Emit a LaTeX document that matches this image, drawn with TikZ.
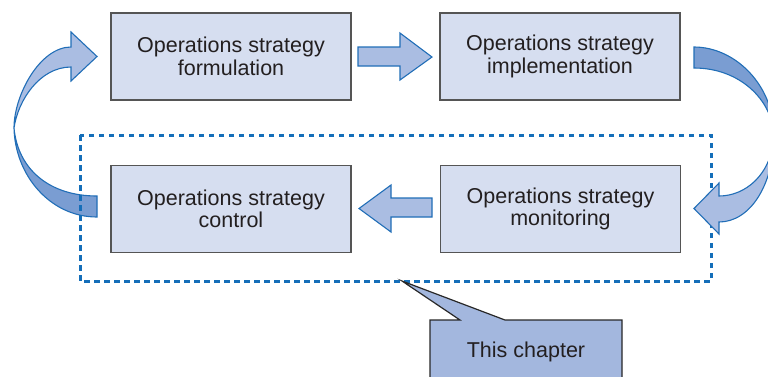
\documentclass[tikz,border=0pt]{standalone}
\usepackage{fontspec}
\setmainfont{Liberation Sans}
\definecolor{boxfill}{RGB}{214,222,240}
\definecolor{boxline}{RGB}{85,85,85}
\definecolor{arrlight}{RGB}{170,189,226}
\definecolor{arrdark}{RGB}{122,157,210}
\definecolor{arrline}{RGB}{33,110,183}
\definecolor{dashcol}{RGB}{20,110,185}
\definecolor{calfill}{RGB}{163,183,222}
\definecolor{calline}{RGB}{40,40,40}
\definecolor{txt}{RGB}{35,31,32}
\begin{document}
\begin{tikzpicture}[x=1pt,y=-1pt,
  stepbox/.style={draw=boxline,line width=1.5pt,fill=boxfill,minimum width=240pt,minimum height=87pt,inner sep=0pt,align=center,text=txt,font=\fontsize{21.5}{22.5}\selectfont},
  lighta/.style={fill=arrlight,draw=arrline,line width=1.1pt,line join=miter},
  darka/.style={fill=arrdark,draw=arrline,line width=1.1pt},
  frame/.style={draw=dashcol,line width=3pt,dash pattern=on 5.5pt off 4.5pt},
  callout/.style={fill=calfill,draw=calline,line width=1.2pt}]
\useasboundingbox (0,0) rectangle (768,376);
\clip (0,0) rectangle (768,376);
% boxes
\node[stepbox] (form) at (231,56.5) {Operations strategy\\formulation};
\node[stepbox] (impl) at (560,56.5) {Operations strategy\\implementation};
\node[stepbox] (ctrl) at (231,209) {Operations strategy\\control};
\node[stepbox] (moni) at (560.5,209) {Operations strategy\\monitoring};
% straight arrows
\draw[lighta] (358,47) -- (400,47) -- (400,33) -- (432,57) -- (400,80) -- (400,66) -- (358,66) -- cycle;
\draw[lighta] (432,198) -- (391,198) -- (391,185) -- (359,208.5) -- (391,232) -- (391,217) -- (432,217) -- cycle;
% left curved arrow
\draw[darka] (14,128) .. controls (18,170) and (50,196) .. (97,196) -- (97,217) .. controls (50,217) and (15,175) .. (14,128) -- cycle;
\draw[lighta] (14,128) .. controls (14,95) and (40,47) .. (71,47) -- (71,32) -- (97,56.5) -- (71,81) -- (71,67) .. controls (40,67) and (18,100) .. (14,128) -- cycle;
% dashed frame
\coordinate (fa) at (80,135);
\coordinate (fb) at (711,281);
\draw[frame] (fa) rectangle (fb);
% right curved arrow
\draw[darka] (694,47) .. controls (735,47) and (774,85) .. (774,135) .. controls (772,100) and (740,68) .. (694,68) -- cycle;
\draw[lighta] (774,135) .. controls (774,185) and (750,222) .. (719,222) -- (719,234) -- (694,208.5) -- (719,183) -- (719,196) .. controls (745,196) and (772,175) .. (774,135) -- cycle;
% callout
\coordinate (tip) at (402,281);
\draw[callout] (430,385) -- (430,320) -- (460,320) -- (tip) -- (505,320) -- (622,320) -- (622,385);
\node[anchor=base,text=txt,font=\fontsize{21.5}{22.5}\selectfont,inner sep=0pt] (chap) at (526,357) {This chapter};
\end{tikzpicture}
\end{document}
